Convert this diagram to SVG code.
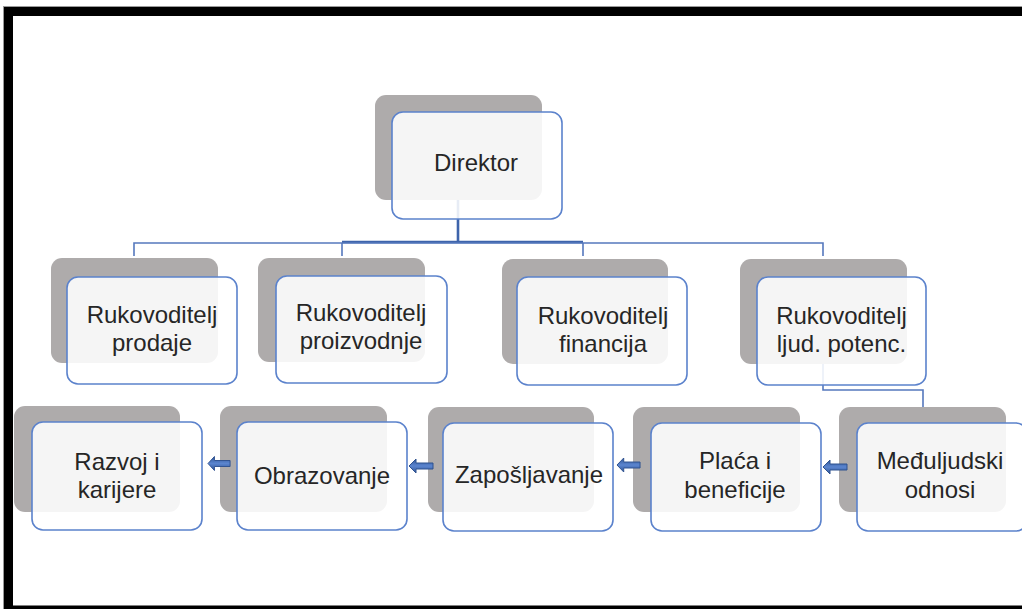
<svg xmlns="http://www.w3.org/2000/svg" xmlns:xlink="http://www.w3.org/1999/xlink" width="1022" height="609" viewBox="0 0 1022 609">
<defs>
<style>
.sh{fill:#aeabab;}
.fr{fill:#ffffff;fill-opacity:0.88;stroke:#5b82cc;stroke-width:1.6;}
.tx{font-family:"Liberation Sans",Arial,sans-serif;font-size:24px;fill:#262626;text-anchor:middle;}
.cn{fill:none;stroke:#5578bd;stroke-width:1.6;}
.cnb{fill:none;stroke:#3e64ab;stroke-width:2.6;}
.ar{fill:url(#ag);stroke:#2f528f;stroke-width:1;}
</style>
<linearGradient id="ag" x1="0" y1="0" x2="0" y2="1">
<stop offset="0" stop-color="#2f5597"/>
<stop offset="0.5" stop-color="#5b85cf"/>
<stop offset="1" stop-color="#2f5597"/>
</linearGradient>
<path id="arrow" d="M0,0 L7,-7 L7,-3 L24,-3 L24,3 L7,3 L7,7 Z"/>
</defs>
<rect x="0" y="0" width="1022" height="609" fill="#ffffff"/>
<g id="frame">
<line x1="3.5" y1="6" x2="3.5" y2="609" stroke="#9a9a9a" stroke-width="1"/>
<line x1="3" y1="6.5" x2="1022" y2="6.5" stroke="#9a9a9a" stroke-width="1"/>
<rect x="4" y="7" width="9" height="602" fill="#000"/>
<rect x="4" y="7" width="1018" height="9" fill="#000"/>
<rect x="4" y="605.5" width="1018" height="3.5" fill="#000"/>
</g>
<g id="connectors">
<path class="cnb" d="M458,160 V242 M342,242 H583"/>
<path class="cn" d="M134,256 V243 H823 V256 M342,243 V256 M583,243 V256"/>
<path class="cn" d="M823,340 V390 H923 V420"/>
</g>
<g id="n-direktor">
<rect class="sh" x="375" y="95" width="167" height="105" rx="11"/>
<rect class="fr" x="392" y="112" width="170" height="107" rx="11"/>
<text class="tx" x="476" y="171">Direktor</text>
</g>
<g id="n-prodaja">
<rect class="sh" x="51" y="258" width="167" height="105" rx="11"/>
<rect class="fr" x="67" y="277" width="170" height="107" rx="11"/>
<text class="tx" x="152" y="323">Rukovoditelj</text>
<text class="tx" x="152" y="351">prodaje</text>
</g>
<g id="n-proizvodnja">
<rect class="sh" x="258" y="258" width="167" height="104" rx="11"/>
<rect class="fr" x="276" y="276" width="171" height="107" rx="11"/>
<text class="tx" x="361" y="321">Rukovoditelj</text>
<text class="tx" x="361" y="349">proizvodnje</text>
</g>
<g id="n-financije">
<rect class="sh" x="502" y="259" width="166" height="105" rx="11"/>
<rect class="fr" x="517" y="277" width="170" height="108" rx="11"/>
<text class="tx" x="603" y="324">Rukovoditelj</text>
<text class="tx" x="603" y="352">financija</text>
</g>
<g id="n-ljudski">
<rect class="sh" x="740" y="259" width="167" height="105" rx="11"/>
<rect class="fr" x="757" y="277" width="169" height="108" rx="11"/>
<text class="tx" x="841.5" y="324">Rukovoditelj</text>
<text class="tx" x="841.5" y="352">ljud. potenc.</text>
</g>
<g id="n-razvoj">
<rect class="sh" x="14" y="406" width="166" height="106" rx="11"/>
<rect class="fr" x="32" y="422" width="170" height="108" rx="11"/>
<text class="tx" x="117" y="470">Razvoj i</text>
<text class="tx" x="117" y="498">karijere</text>
</g>
<g id="n-obrazovanje">
<rect class="sh" x="220" y="406" width="167" height="106" rx="11"/>
<rect class="fr" x="237" y="422" width="170" height="108" rx="11"/>
<text class="tx" x="322" y="484">Obrazovanje</text>
</g>
<g id="n-zaposljavanje">
<rect class="sh" x="428" y="407" width="166" height="105" rx="11"/>
<rect class="fr" x="443" y="423" width="170" height="108" rx="11"/>
<text class="tx" x="529" y="483">Zapošljavanje</text>
</g>
<g id="n-placa">
<rect class="sh" x="633" y="407" width="167" height="105" rx="11"/>
<rect class="fr" x="651" y="423" width="170" height="108" rx="11"/>
<text class="tx" x="735" y="469">Plaća i</text>
<text class="tx" x="735" y="498">beneficije</text>
</g>
<g id="n-medjuljudski">
<rect class="sh" x="839" y="407" width="167" height="105" rx="11"/>
<rect class="fr" x="857" y="423" width="170" height="108" rx="11"/>
<text class="tx" x="940" y="469">Međuljudski</text>
<text class="tx" x="940" y="498">odnosi</text>
</g>
<g id="arrows">
<use xlink:href="#arrow" class="ar" transform="translate(208,463.5) scale(0.92,1)"/>
<use xlink:href="#arrow" class="ar" transform="translate(409,466)"/>
<use xlink:href="#arrow" class="ar" transform="translate(617,465) scale(0.96,1)"/>
<use xlink:href="#arrow" class="ar" transform="translate(823,467)"/>
</g>
</svg>
